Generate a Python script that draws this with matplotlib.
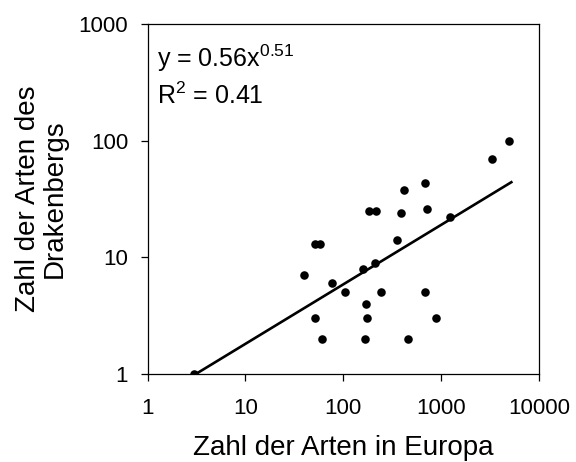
import numpy as np
import matplotlib
matplotlib.use("Agg")
import matplotlib.pyplot as plt
from matplotlib.ticker import FixedLocator, NullLocator, FixedFormatter

plt.rcParams['font.family'] = ['Liberation Sans', 'DejaVu Sans']
plt.rcParams['mathtext.fontset'] = 'custom'
plt.rcParams['mathtext.rm'] = 'Liberation Sans'
plt.rcParams['mathtext.it'] = 'Liberation Sans'
plt.rcParams['mathtext.bf'] = 'Liberation Sans'

# Data
europa = [3, 40, 51, 58, 51, 60, 77, 105, 159, 170, 176, 165, 183, 217, 211, 243,
          351, 392, 418, 456, 681, 714, 681, 877, 1230, 3294, 4921]
drakensberg = [1, 7, 13, 13, 3, 2, 6, 5, 8, 4, 3, 2, 25, 25, 9, 5,
               14, 24, 38, 2, 43, 26, 5, 3, 22, 70, 100]
fit_a = 0.56
fit_b = 0.51
r2 = 0.41
x_ticks = [1, 10, 100, 1000, 10000]
x_ticklabels = ["1", "10", "100", "1000", "10000"]
y_ticks = [1, 10, 100, 1000]
y_ticklabels = ["1", "10", "100", "1000"]

W, H = 576, 462
fig = plt.figure(figsize=(W / 100, H / 100), dpi=100)
ax = fig.add_axes([147.5 / W, (H - 374) / H, 391.5 / W, 350 / H])

ax.scatter(europa, drakensberg, s=38, color='black', zorder=3, linewidths=0)
xs = np.array([min(europa), max(europa) * 1.06])
ax.plot(xs, fit_a * xs ** fit_b, color='black', lw=1.9, zorder=2)

ax.set_xscale('log')
ax.set_yscale('log')
ax.set_xlim(1, 10000)
ax.set_ylim(1, 1000)
ax.xaxis.set_major_locator(FixedLocator(x_ticks))
ax.xaxis.set_major_formatter(FixedFormatter(x_ticklabels))
ax.xaxis.set_minor_locator(NullLocator())
ax.yaxis.set_major_locator(FixedLocator(y_ticks))
ax.yaxis.set_major_formatter(FixedFormatter(y_ticklabels))
ax.yaxis.set_minor_locator(NullLocator())

for sp in ax.spines.values():
    sp.set_linewidth(0.9)
    sp.set_color('black')
ax.tick_params(axis='x', direction='out', length=5, width=0.9, labelsize=16, pad=12)
ax.tick_params(axis='y', direction='out', length=5, width=0.9, labelsize=16, pad=9)

ax.set_xlabel('Zahl der Arten in Europa', fontsize=20, va='baseline')
ax.xaxis.set_label_coords(0.5, (374 - 455) / 350)
ax.set_ylabel('Zahl der Arten des\nDrakenbergs', fontsize=20, va='center',
              multialignment='center', linespacing=1.05)
ax.yaxis.set_label_coords((41.5 - 147.5) / 391.5, 0.5)

ax.text(0.025, 0.878, r'y = 0.56x$^{0.51}$', transform=ax.transAxes,
        fontsize=18, va='baseline', ha='left')
ax.text(0.025, 0.771, r'R$^{2}$ = 0.41', transform=ax.transAxes,
        fontsize=18, va='baseline', ha='left')

fig.savefig('out.png', dpi=100)
